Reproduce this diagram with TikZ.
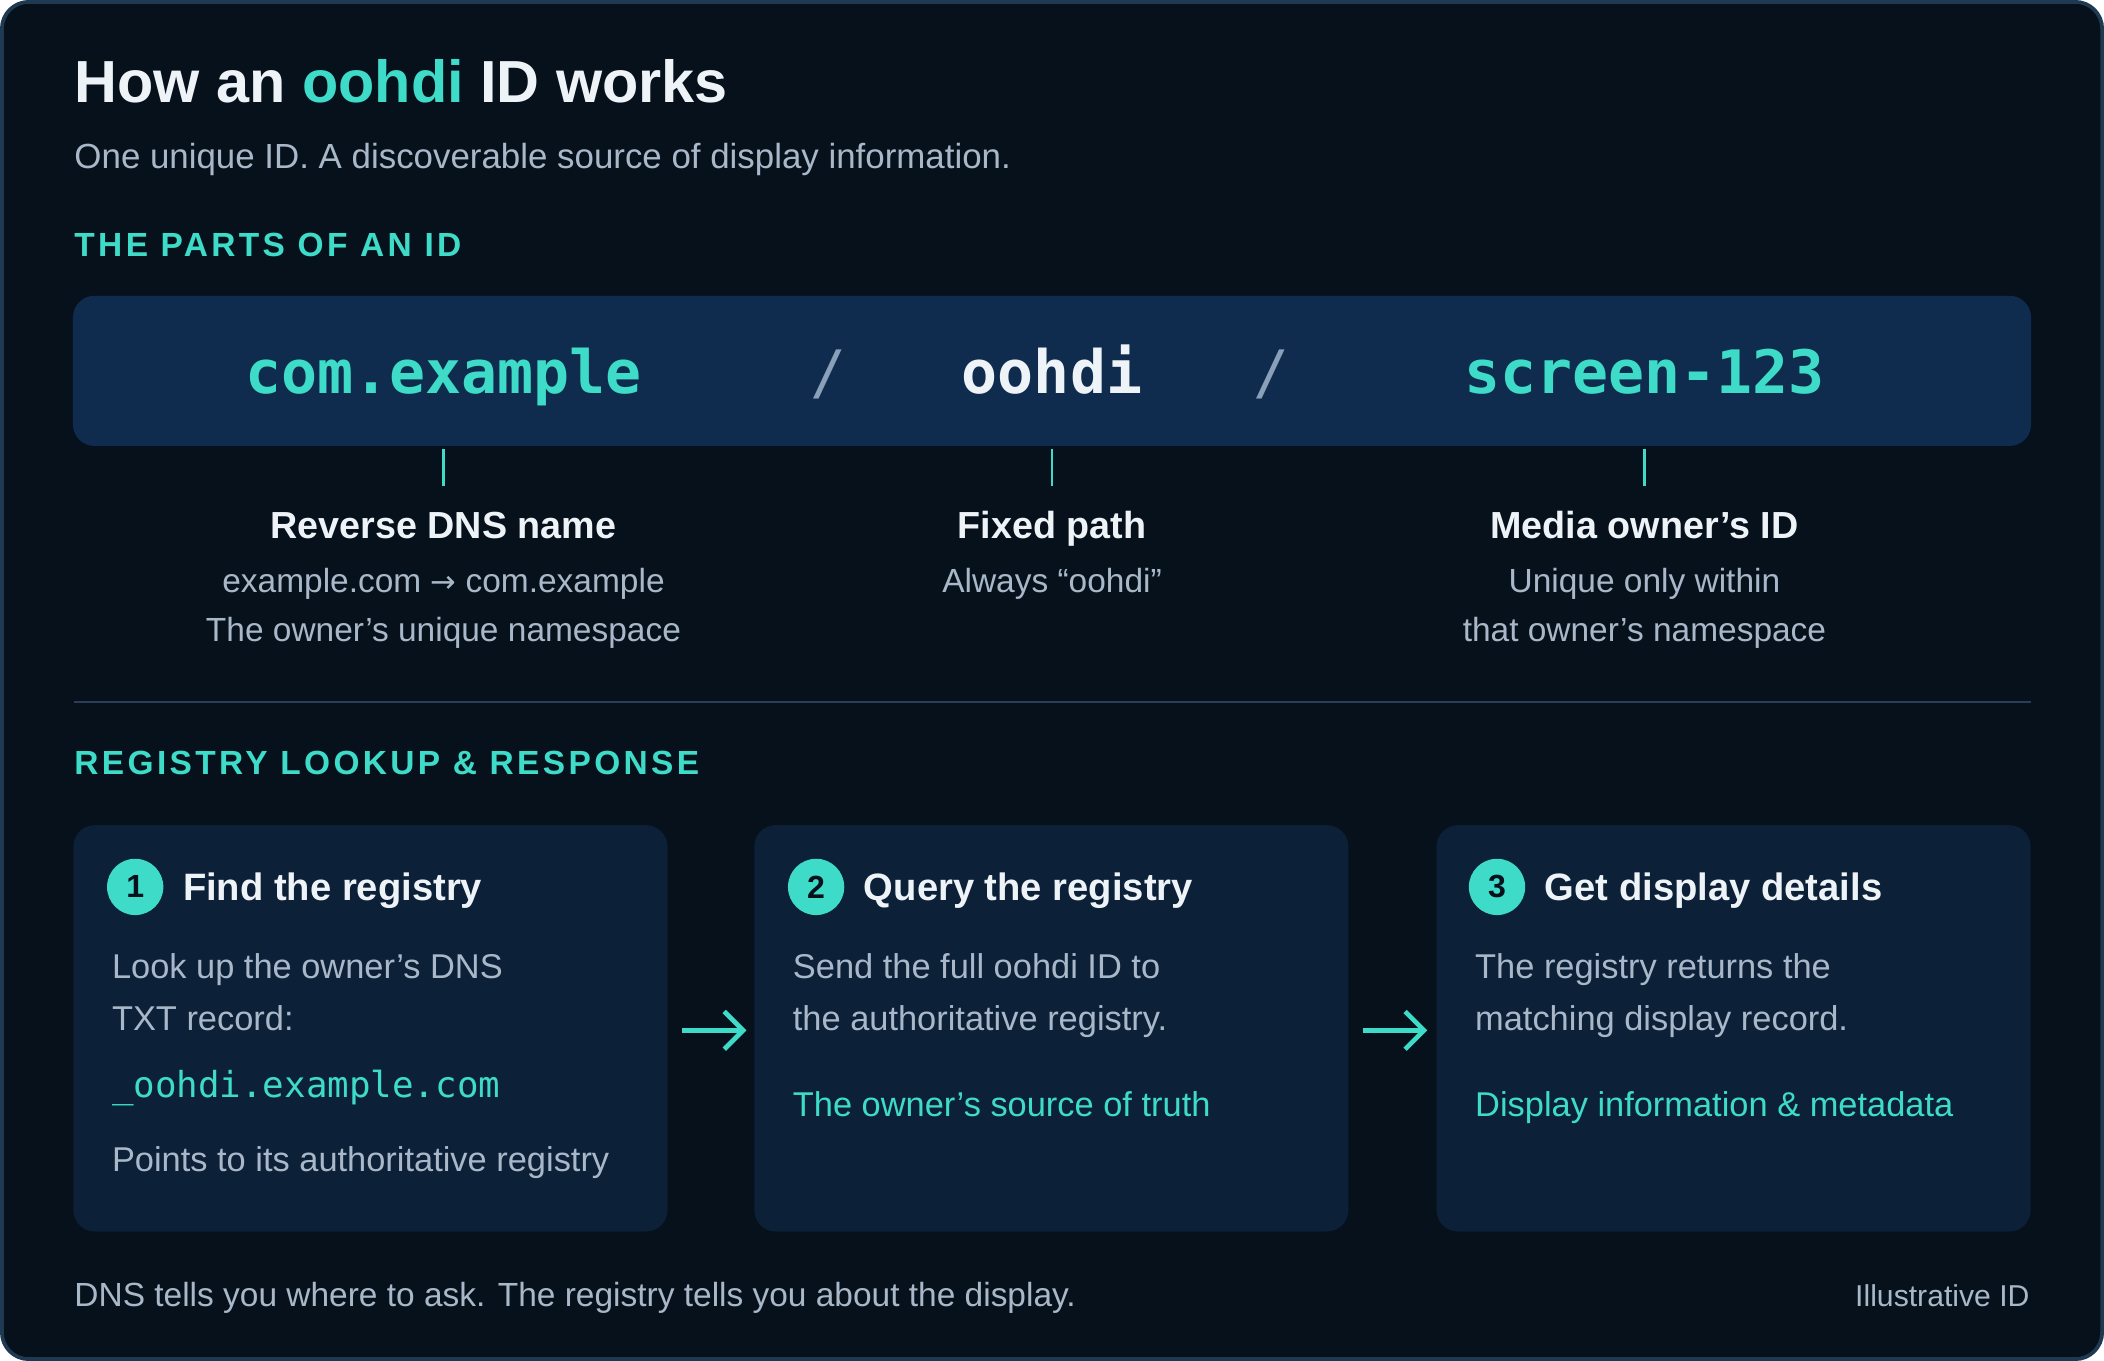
\documentclass[tikz,border=0pt]{standalone}
\usepackage{fontspec}
\setmainfont{Liberation Sans}
\newfontfamily\mono{DejaVu Sans Mono}
\newfontfamily\spaced[LetterSpace=10]{Liberation Sans}
\usetikzlibrary{arrows.meta}
\definecolor{bg}{HTML}{06111C}
\definecolor{edge}{HTML}{1E3A52}
\definecolor{bar}{HTML}{0F2B4D}
\definecolor{card}{HTML}{0C2038}
\definecolor{teal}{HTML}{3DDBC8}
\definecolor{ink}{HTML}{EEF3F8}
\definecolor{grey}{HTML}{A9B8C8}
\definecolor{slash}{HTML}{8AA0B8}
\definecolor{rule}{HTML}{2A3F55}
\newcommand\fsz[1]{\fontsize{#1}{#1}\selectfont}
\begin{document}
\begin{tikzpicture}[x=0.01cm,y=-0.01cm,
  lbl/.style={inner sep=0,anchor=base},
  lw/.style={inner sep=0,anchor=base west},
  sec/.style={lw,text=teal,font=\spaced\bfseries\fsz{7.1}},
  idt/.style={lbl,font=\mono\bfseries\fsz{12.7}},
  head/.style={lbl,text=ink,font=\bfseries\fsz{8}},
  sub/.style={lbl,text=grey,font=\fsz{7.1}},
  card/.style={fill=card,rounded corners=0.16cm},
  num/.style={circle,fill=teal,minimum size=0.42cm,inner sep=0,text=bg,font=\bfseries\fsz{6.8}},
  stitle/.style={inner sep=0,anchor=base west,text=ink,font=\bfseries\fsz{8.1}},
  body/.style={lw,text=grey,font=\fsz{7.3}},
  tick/.style={teal,line width=0.6pt},
  arr/.style={teal,line width=1pt,-{Straight Barb[length=4pt,width=8pt]}}]
\node[draw=edge,fill=bg,rounded corners=0.2cm,line width=0.8pt,minimum width=15.66cm,minimum height=10.12cm,inner sep=0] (frame) at (784,507) {};
\useasboundingbox (0,0) rectangle (1568,1014);
\node[lw,text=ink,font=\bfseries\fsz{12.6}] (title) at (54,76) {How an \textcolor{teal}{oohdi} ID works};
\node[lw,text=grey,font=\fsz{7.4}] (subt) at (54,125) {One unique ID. A discoverable source of display information.};
\node[sec] (sec1) at (54,191) {THE PARTS OF AN ID};
\node[fill=bar,rounded corners=0.16cm,minimum width=14.6cm,minimum height=1.12cm,inner sep=0] (bar) at (784,276) {};
\node[idt,text=teal] (p1) at (330,293) {com.example};
\node[idt,text=slash,font=\mono\fsz{12.7}] (s1) at (617,293) {/};
\node[idt,text=ink] (p2) at (784,293) {oohdi};
\node[idt,text=slash,font=\mono\fsz{12.7}] (s2) at (948,293) {/};
\node[idt,text=teal] (p3) at (1226,293) {screen-123};
\coordinate (t1a) at (330,334); \coordinate (t1b) at (330,362);
\coordinate (t2a) at (784,334); \coordinate (t2b) at (784,362);
\coordinate (t3a) at (1226,334); \coordinate (t3b) at (1226,362);
\draw[tick] (t1a) -- (t1b); \draw[tick] (t2a) -- (t2b); \draw[tick] (t3a) -- (t3b);
\node[head] (h1) at (330,401) {Reverse DNS name};
\node[sub] (h1a) at (330,441) {example.com {\fontspec{DejaVu Sans}\fsz{6.5}→} com.example};
\node[sub] (h1b) at (330,478) {The owner’s unique namespace};
\node[head] (h2) at (784,401) {Fixed path};
\node[sub] (h2a) at (784,441) {Always “oohdi”};
\node[head] (h3) at (1226,401) {Media owner’s ID};
\node[sub] (h3a) at (1226,441) {Unique only within};
\node[sub] (h3b) at (1226,478) {that owner’s namespace};
\coordinate (r1) at (54,523); \coordinate (r2) at (1514,523);
\draw[rule,line width=0.6pt] (r1) -- (r2);
\node[sec] (sec2) at (54,577) {REGISTRY LOOKUP \& RESPONSE};
\node[card,minimum width=4.43cm,minimum height=3.03cm,inner sep=0] (c1) at (275.5,766.5) {};
\node[card,minimum width=4.43cm,minimum height=3.03cm,inner sep=0] (c2) at (783.5,766.5) {};
\node[card,minimum width=4.43cm,minimum height=3.03cm,inner sep=0] (c3) at (1292.5,766.5) {};
\node[num] (n1) at (100,661) {1};
\node[stitle] (st1) at (135,671) {Find the registry};
\node[body] (b1a) at (82,729) {Look up the owner’s DNS};
\node[body] (b1b) at (82,768) {TXT record:};
\node[lw,text=teal,font=\mono\fsz{7.6}] (b1c) at (82,818) {\_oohdi.example.com};
\node[body] (b1d) at (82,873) {Points to its authoritative registry};
\node[num] (n2) at (608,661) {2};
\node[stitle] (st2) at (643,671) {Query the registry};
\node[body] (b2a) at (590,729) {Send the full oohdi ID to};
\node[body] (b2b) at (590,768) {the authoritative registry.};
\node[body,text=teal] (b2c) at (590,832) {The owner’s source of truth};
\node[num] (n3) at (1116,661) {3};
\node[stitle] (st3) at (1151,671) {Get display details};
\node[body] (b3a) at (1099,729) {The registry returns the};
\node[body] (b3b) at (1099,768) {matching display record.};
\node[body,text=teal] (b3c) at (1099,832) {Display information \& metadata};
\coordinate (a1a) at (508,768); \coordinate (a1b) at (556,768);
\coordinate (a2a) at (1016,768); \coordinate (a2b) at (1064,768);
\draw[arr] (a1a) -- (a1b); \draw[arr] (a2a) -- (a2b);
\node[lw,text=grey,font=\fsz{7.1}] (foot) at (54,974) {DNS tells you where to ask. The registry tells you about the display.};
\node[inner sep=0,anchor=base east,text=grey,font=\fsz{6.4}] (ill) at (1514,974) {Illustrative ID};
\end{tikzpicture}
\end{document}
